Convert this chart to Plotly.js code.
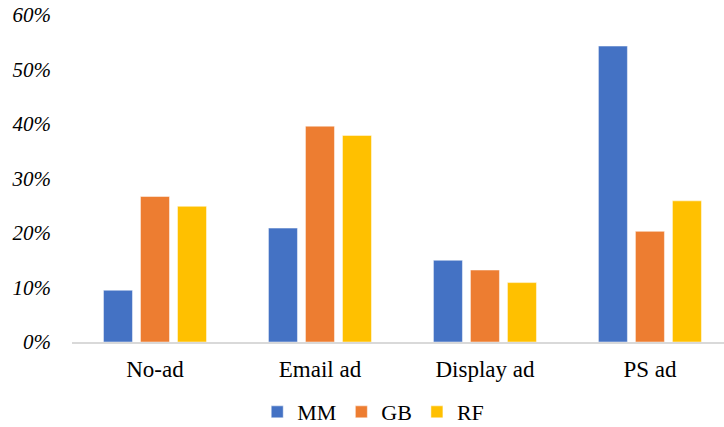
<!DOCTYPE html>
<html>
<head>
<meta charset="utf-8">
<script src="https://cdn.plot.ly/plotly-3.0.1.min.js"></script>
<style>html,body{margin:0;padding:0;background:#fff;}#chart{width:724px;height:427px;}</style>
</head>
<body>
<div id="chart"></div>
<script>
const categories = ["No-ad", "Email ad", "Display ad", "PS ad"];
const seriesNames = ["MM", "GB", "RF"];
const mmValues = [0.095, 0.209, 0.150, 0.543];
const gbValues = [0.267, 0.396, 0.132, 0.203];
const rfValues = [0.249, 0.379, 0.109, 0.259];
const yTickValues = [0, 0.1, 0.2, 0.3, 0.4, 0.5, 0.6];
const yTickLabels = ["0%", "10%", "20%", "30%", "40%", "50%", "60%"];
const colors = ["#4472C4", "#ED7D31", "#FFC000"];

const SERIF = "Liberation Serif";

const allValues = [mmValues, gbValues, rfValues];
const traces = allValues.map((vals, i) => ({
  type: "bar",
  name: seriesNames[i],
  x: categories,
  y: vals,
  marker: {color: colors[i], line: {color: "rgba(255,255,255,0.6)", width: 0.8}},
  hoverinfo: "none"
}));

const layout = {
  width: 724,
  height: 427,
  margin: {l: 72, r: 0, t: 15, b: 85, autoexpand: false},
  paper_bgcolor: "#ffffff",
  plot_bgcolor: "#ffffff",
  barmode: "group",
  bargap: 0.327,
  bargroupgap: 0.216,
  font: {family: SERIF, color: "black"},
  xaxis: {
    type: "category",
    range: [-0.503, 3.449],
    showgrid: false,
    zeroline: false,
    showline: true,
    linecolor: "#d9d9d9",
    linewidth: 1.5,
    ticks: "",
    ticklabelstandoff: 6,
    tickfont: {size: 23, family: SERIF, color: "black"}
  },
  yaxis: {
    range: [0, 0.6],
    tickvals: yTickValues,
    ticktext: yTickLabels,
    showgrid: false,
    zeroline: false,
    showline: false,
    ticks: "",
    ticklabelstandoff: 20,
    tickfont: {size: 21, family: SERIF, color: "black", style: "italic"}
  },
  showlegend: true,
  legend: {
    orientation: "h",
    xref: "paper",
    x: 0.462,
    xanchor: "center",
    yref: "container",
    y: 0.035,
    yanchor: "middle",
    font: {size: 22, family: SERIF, color: "black"},
    itemwidth: 30,
    tracegroupgap: 0
  }
};

Plotly.newPlot("chart", traces, layout, {displayModeBar: false, staticPlot: true});
</script>
</body>
</html>
